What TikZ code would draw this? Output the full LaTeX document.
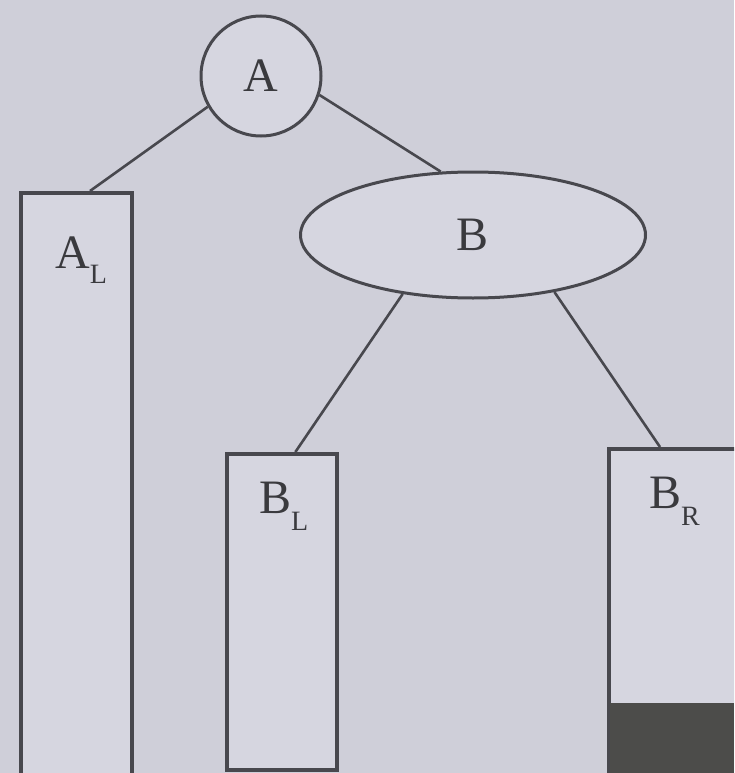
\documentclass[tikz,border=0pt]{standalone}
\usepackage{fontspec}
\setmainfont{Liberation Serif}
\usetikzlibrary{shapes.geometric,calc}
\definecolor{bg}{RGB}{207,207,217}
\definecolor{boxin}{RGB}{214,214,224}
\definecolor{ink}{RGB}{72,72,78}
\definecolor{darkblk}{RGB}{76,76,74}
\newcommand{\bigfont}{\fontsize{48}{52}\selectfont}
\newcommand{\subfont}{\fontsize{28}{30}\selectfont}
\begin{document}
\begin{tikzpicture}[x=1pt,y=-1pt,
  boxnode/.style={draw=ink, line width=3.5pt, fill=boxin, rectangle, inner sep=0pt, anchor=north west},
  conn/.style={draw=ink, line width=2.6pt},
  lbl/.style={anchor=base west, inner sep=0pt, text=ink!80!black, font=\bigfont}]
\useasboundingbox (0,0) rectangle (734,773);
\fill[bg] (0,0) rectangle (734,773);
\clip (0,0) rectangle (734,773);
% boxes
\node[boxnode, minimum width=111pt, minimum height=640pt] (AL) at (19,191) {};
\node[boxnode, minimum width=110pt, minimum height=316pt] (BL) at (225,452) {};
\node[boxnode, minimum width=220pt, minimum height=400pt] (BR) at (607,447) {};
\fill[darkblk] (610,703) rectangle (734,773);
% tree nodes
\node[circle, draw=ink, line width=3pt, fill=boxin, minimum size=120pt, inner sep=0pt, font=\bigfont, text=ink!80!black] (A) at (261,76) {A};
\node[ellipse, draw=ink, line width=3pt, fill=boxin, minimum width=345pt, minimum height=126pt, inner sep=0pt, font=\bigfont, text=ink!80!black] (B) at (473,235) {B};
% labels
\node[lbl] (ALt) at (55,268) {A\raisebox{-15pt}{\subfont L}};
\node[lbl] (BLt) at (259,513) {B\raisebox{-17pt}{\subfont L}};
\node[lbl] (BRt) at (649,508) {B\raisebox{-17pt}{\subfont R}};
% connectors
\draw[conn] (A.210) -- ($(AL.north west)!0.62!(AL.north east)$);
\draw[conn] (A.-18) -- (B.117);
\draw[conn] (B.220) -- ($(BL.north west)!0.62!(BL.north east)$);
\draw[conn] (B.325) -- ($(BR.north west)+(53,0)$);
\end{tikzpicture}
\end{document}
